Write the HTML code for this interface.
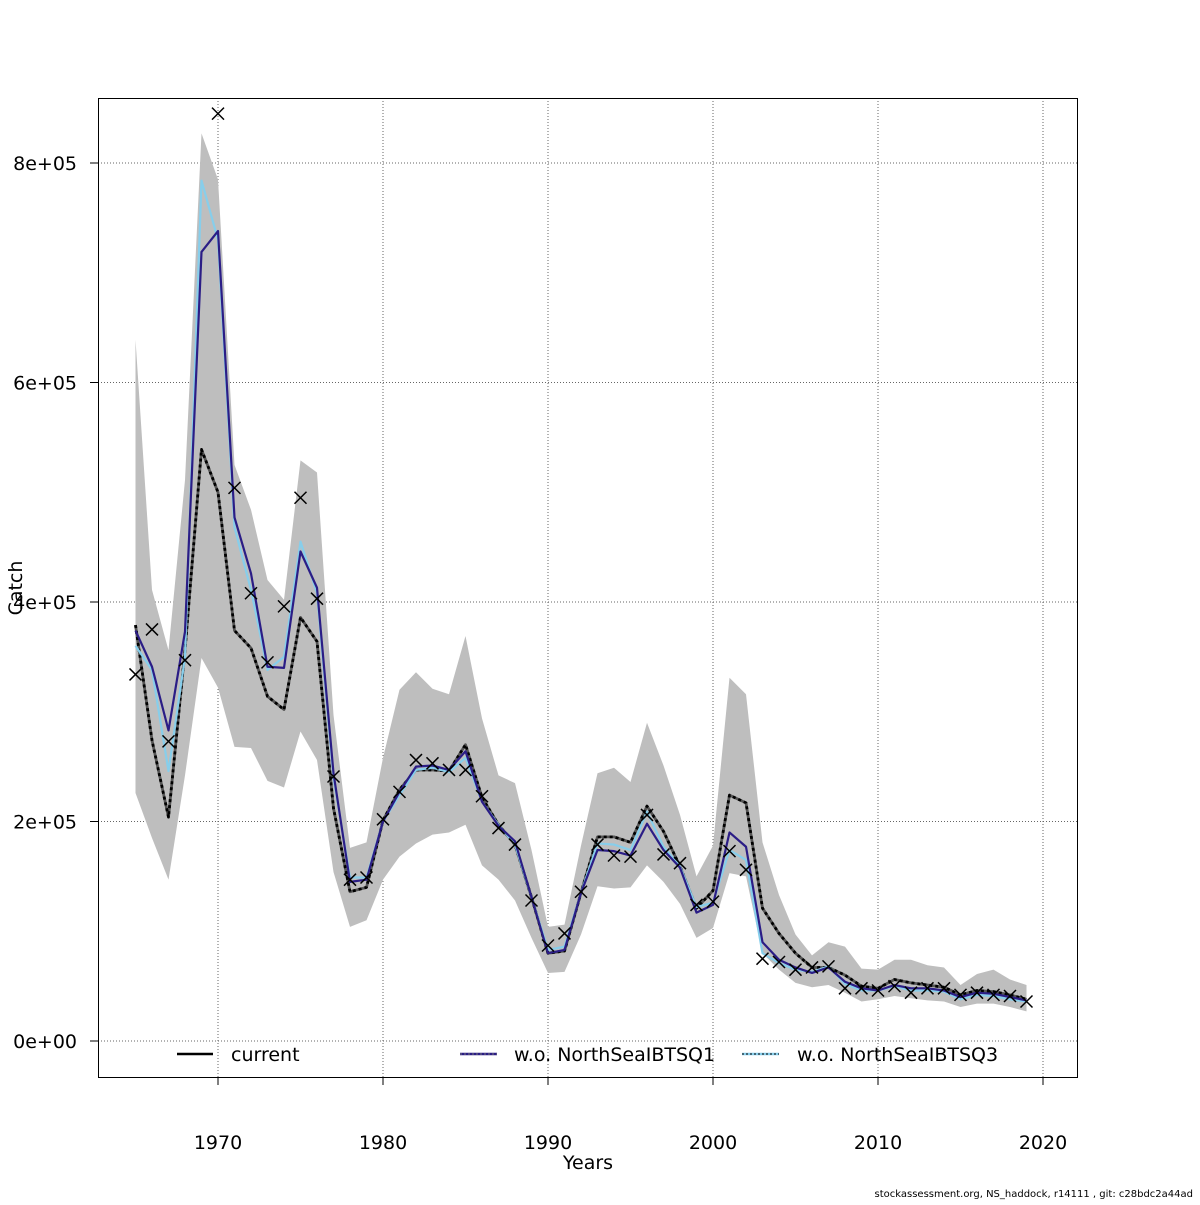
<!DOCTYPE html>
<html><head><meta charset="utf-8"><style>
html,body{margin:0;padding:0;background:#fff;}
svg text{font-family:"DejaVu Sans","Liberation Sans",sans-serif;}
</style></head><body>
<svg id="chart" width="1200" height="1200" viewBox="0 0 1200 1200" xmlns="http://www.w3.org/2000/svg">
<rect width="1200" height="1200" fill="#fff"/>
<g id="grid"></g>
<g id="band"></g>
<g id="lines"></g>
<g id="pts"></g>
<g id="axes"></g>
<rect x="98.5" y="98.5" width="979" height="979" fill="none" stroke="#000" stroke-width="1"/>
<text x="588" y="1169" font-size="19" text-anchor="middle">Years</text>
<text x="22" y="588" font-size="19" text-anchor="middle" transform="rotate(-90 22 588)">Catch</text>
<text x="1193" y="1197" font-size="10" text-anchor="end">stockassessment.org, NS_haddock, r14111 , git: c28bdc2a44ad</text>
<g id="legend">
 <g>
  <line x1="177" y1="1054" x2="213" y2="1054" stroke="#000" stroke-width="2.5"/>
  <text x="231" y="1061" font-size="19">current</text>
 </g>
 <g>
  <line x1="460" y1="1054" x2="497" y2="1054" stroke="#2b1d86" stroke-width="2.5"/>
  <line x1="460" y1="1054" x2="497" y2="1054" stroke="#777" stroke-width="1" stroke-dasharray="2,2"/>
  <text x="514" y="1061" font-size="19">w.o. NorthSeaIBTSQ1</text>
 </g>
 <g>
  <line x1="742" y1="1054" x2="779" y2="1054" stroke="#87ceeb" stroke-width="2.5"/>
  <line x1="742" y1="1054" x2="779" y2="1054" stroke="#000" stroke-width="1" stroke-dasharray="2,2"/>
  <text x="797" y="1061" font-size="19">w.o. NorthSeaIBTSQ3</text>
 </g>
</g>
</svg>
<script>
const years = [];
for (let y = 1965; y <= 2019; y++) years.push(y);
// values in thousand tonnes
const current = [379,274,204,356,539,500,374,358,314,302,386,364,212,136,140,201,229,247,247,246,270,222,197,179,131,80,82,135,186,186,181,214,191,159,121,137,224,217,121,98,80,67,67,60,50,48,56,53,51,49,42,46,45,42,38];
const woQ1 = [374,341,283,373,719,738,477,426,341,340,446,413,244,145,147,200,227,250,251,247,264,218,196,182,131,80,83,135,174,173,169,198,174,158,117,124,190,177,90,74,67,62,67,54,48,46,51,48,48,46,40,44,43,40,37];
const woQ3 = [360,338,246,350,784,730,468,411,338,350,455,408,240,149,149,200,224,247,249,245,258,218,197,179,131,83,86,135,180,179,174,209,177,159,122,126,174,165,80,71,65,63,68,52,46,46,50,46,46,45,38,42,41,38,36];
const upper = [639,411,356,511,827,785,525,484,420,402,529,518,297,176,181,258,320,336,321,316,369,294,242,235,174,104,106,178,244,249,236,290,251,206,150,178,331,316,181,133,97,78,90,86,66,65,74,74,69,67,51,61,65,56,51];
const lower = [226,185,147,242,349,322,268,267,237,231,282,256,154,104,110,147,168,180,188,190,197,160,147,128,94,62,63,97,141,139,140,160,145,125,94,103,153,150,80,65,53,49,51,44,36,38,41,39,37,36,31,34,34,31,27];
const observed = [334,375,273,347,null,845,504,408,345,396,495,403,241,147,149,202,227,256,253,247,247,223,194,179,128,87,98,136,179,169,168,206,170,162,124,127,173,156,75,72,65,67,68,48,48,46,50,44,48,48,42,44,42,41,36];
const xTicks = [1970,1980,1990,2000,2010,2020];
const yTicks = [0,200,400,600,800];
const yTickLabels = ["0e+00","2e+05","4e+05","6e+05","8e+05"];

const NS = "http://www.w3.org/2000/svg";
const X = yr => 218 + (yr - 1970) * 16.5;
const Y = v => 1041 - v * 1.0975;
function mk(tag, attrs, parent) {
  const e = document.createElementNS(NS, tag);
  for (const k in attrs) e.setAttribute(k, attrs[k]);
  parent.appendChild(e);
  return e;
}
const grid = document.getElementById('grid'), axes = document.getElementById('axes');
xTicks.forEach((t, i) => {
  const g = mk('line', {x1: X(t), x2: X(t), y1: 98, y2: 1077, stroke: '#666', 'stroke-width': 1, 'stroke-dasharray': '1,2'}, grid);
  
  
  const tk = mk('line', {x1: X(t), x2: X(t), y1: 1077, y2: 1085, stroke: '#000'}, axes);
  
  
  const tx = mk('text', {x: X(t), y: 1149, 'font-size': 19, 'text-anchor': 'middle'}, axes);
  tx.textContent = t;
  
  
});
yTicks.forEach((t, i) => {
  const g = mk('line', {x1: 98, x2: 1077, y1: Y(t), y2: Y(t), stroke: '#666', 'stroke-width': 1, 'stroke-dasharray': '1,2'}, grid);
  
  
  const tk = mk('line', {x1: 90, x2: 98, y1: Y(t), y2: Y(t), stroke: '#000'}, axes);
  
  
  const tx = mk('text', {x: 77, y: Y(t) + 7, 'font-size': 19, 'text-anchor': 'end'}, axes);
  tx.textContent = yTickLabels[i];
  
  
});
// band
let pts = years.map((y, i) => X(y) + ',' + Y(upper[i]));
for (let i = years.length - 1; i >= 0; i--) pts.push(X(years[i]) + ',' + Y(lower[i]));
const band = mk('polygon', {points: pts.join(' '), fill: '#bebebe', stroke: 'none'}, document.getElementById('band'));


const lines = document.getElementById('lines');
function poly(arr, stroke, w, dash) {
  const p = mk('polyline', {points: years.map((y, i) => X(y) + ',' + Y(arr[i])).join(' '), fill: 'none', stroke: stroke, 'stroke-width': w, 'stroke-linejoin': 'round'}, lines);
  if (dash) p.setAttribute('stroke-dasharray', dash);
  return p;
}
let l = poly(current, '#555', 2.8);


l = poly(current, '#000', 2.8, '3,3');


l = poly(woQ3, '#87ceeb', 2.2);


l = poly(woQ1, '#2b1d86', 2.2);


const pg = document.getElementById('pts');
years.forEach((y, i) => {
  if (observed[i] == null) return;
  const cx = X(y), cy = Y(observed[i]), s = 6;
  const p = mk('path', {d: `M${cx-s},${cy-s}L${cx+s},${cy+s}M${cx-s},${cy+s}L${cx+s},${cy-s}`, stroke: '#000', 'stroke-width': 1.5, fill: 'none'}, pg);
  
  
});
</script>
</body></html>
